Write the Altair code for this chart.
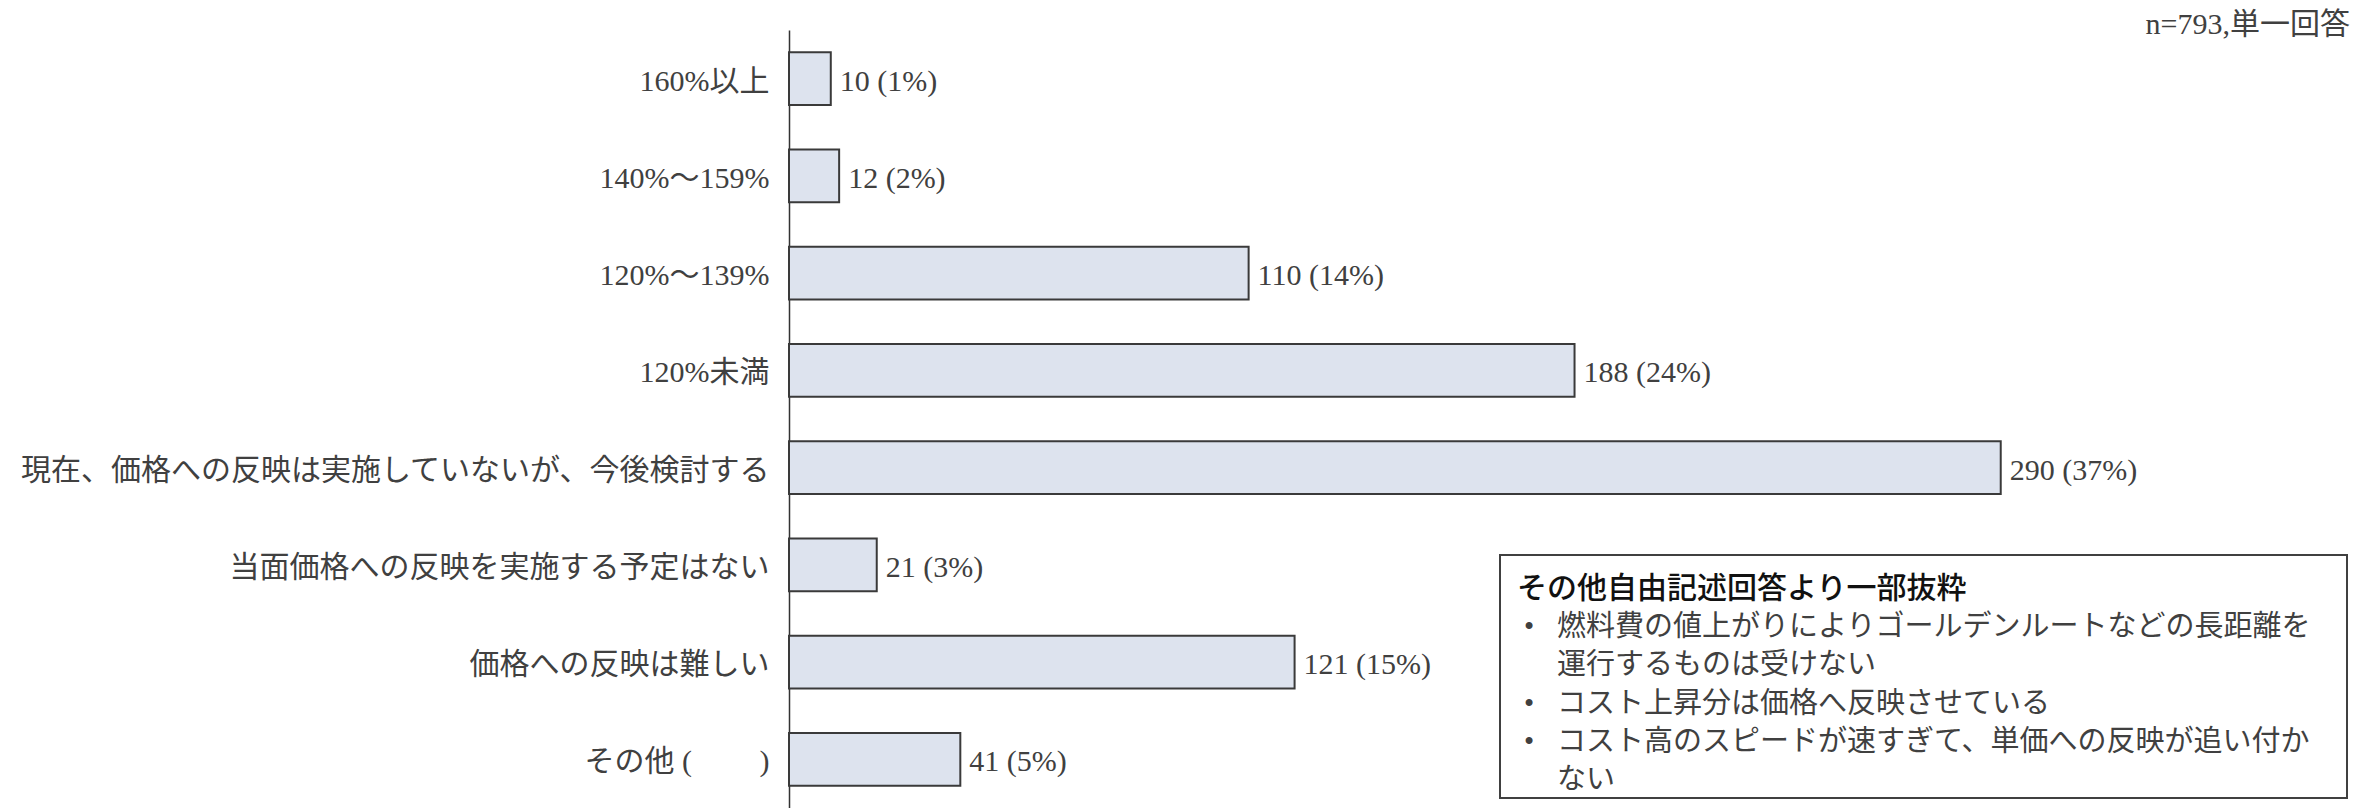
import altair as alt
import pandas as pd

categories = [
    "160%以上",
    "140%～159%",
    "120%～139%",
    "120%未満",
    "現在、価格への反映は実施していないが、今後検討する",
    "当面価格への反映を実施する予定はない",
    "価格への反映は難しい",
    "その他 (\u3000\u3000 )",
]
counts = [10, 12, 110, 188, 290, 21, 121, 41]
percents = [1, 2, 14, 24, 37, 3, 15, 5]

sample_note = "n=793,単一回答"
note_title = "その他自由記述回答より一部抜粋"
note_lines = [
    "燃料費の値上がりによりゴールデンルートなどの長距離を",
    "運行するものは受けない",
    "コスト上昇分は価格へ反映させている",
    "コスト高のスピードが速すぎて、単価への反映が追い付か",
    "ない",
]
note_bullets = [True, False, True, True, False]

df = pd.DataFrame({"category": categories, "count": counts, "pct": percents})
df["label"] = df["count"].astype(str) + " (" + df["pct"].astype(str) + "%)"

FONT = "Liberation Serif, Noto Sans CJK JP"
TXT = "#404040"

y_enc = alt.Y(
    "category:N",
    sort=categories,
    scale=alt.Scale(paddingInner=0.46, paddingOuter=0.23),
    axis=alt.Axis(
        title=None, ticks=False, grid=False, domainColor="#333333", domainWidth=1.5,
        labelFont=FONT, labelFontSize=30, labelColor=TXT, labelPadding=20, labelLimit=2000,
        labelOffset=3,
    ),
)
x_enc = alt.X("count:Q", scale=alt.Scale(domain=[0, 370], nice=False), axis=None)

base = alt.Chart(df)
bars = base.mark_bar(fill="#DDE3EE", stroke="#3a3a3a", strokeWidth=2).encode(x=x_enc, y=y_enc)
labels = base.mark_text(align="left", baseline="middle", dx=9, dy=3, font=FONT, fontSize=30, color=TXT).encode(
    x=x_enc, y=y_enc, text="label:N"
)

ntext = alt.Chart(pd.DataFrame({"t": [sample_note]})).mark_text(
    align="right", baseline="middle", font=FONT, fontSize=30, color=TXT
).encode(x=alt.value(1561), y=alt.value(-5), text="t:N")

box = alt.Chart(pd.DataFrame({"a": [0]})).mark_rect(
    fill="white", stroke="#404040", strokeWidth=2
).encode(x=alt.value(711), x2=alt.value(1558), y=alt.value(525), y2=alt.value(768))

title = alt.Chart(pd.DataFrame({"t": [note_title]})).mark_text(
    align="left", baseline="middle", font="Noto Sans CJK JP", fontSize=30, color="#111111", fontWeight=500
).encode(x=alt.value(728), y=alt.value(559), text="t:N")

layers = [bars, labels, ntext, box, title]
LINE0 = 597
LINE_H = 38.25
for i, (txt, has_bullet) in enumerate(zip(note_lines, note_bullets)):
    ypos = LINE0 + i * LINE_H
    layers.append(
        alt.Chart(pd.DataFrame({"t": [txt]})).mark_text(
            align="left", baseline="middle", font="Noto Sans CJK JP", fontSize=29, color=TXT
        ).encode(x=alt.value(768), y=alt.value(ypos), text="t:N")
    )
    if has_bullet:
        layers.append(
            alt.Chart(pd.DataFrame({"t": ["•"]})).mark_text(
                align="left", baseline="middle", font=FONT, fontSize=29, color=TXT
            ).encode(x=alt.value(735), y=alt.value(ypos), text="t:N")
        )

chart = alt.layer(*layers).properties(
    width=1546,
    height=778,
    autosize=alt.AutoSizeParams(type="none"),
    padding={"left": 789, "top": 30, "right": 31, "bottom": 0},
).configure_view(stroke=None)

chart.save("out.html", embed_options={"renderer": "svg", "actions": False})
